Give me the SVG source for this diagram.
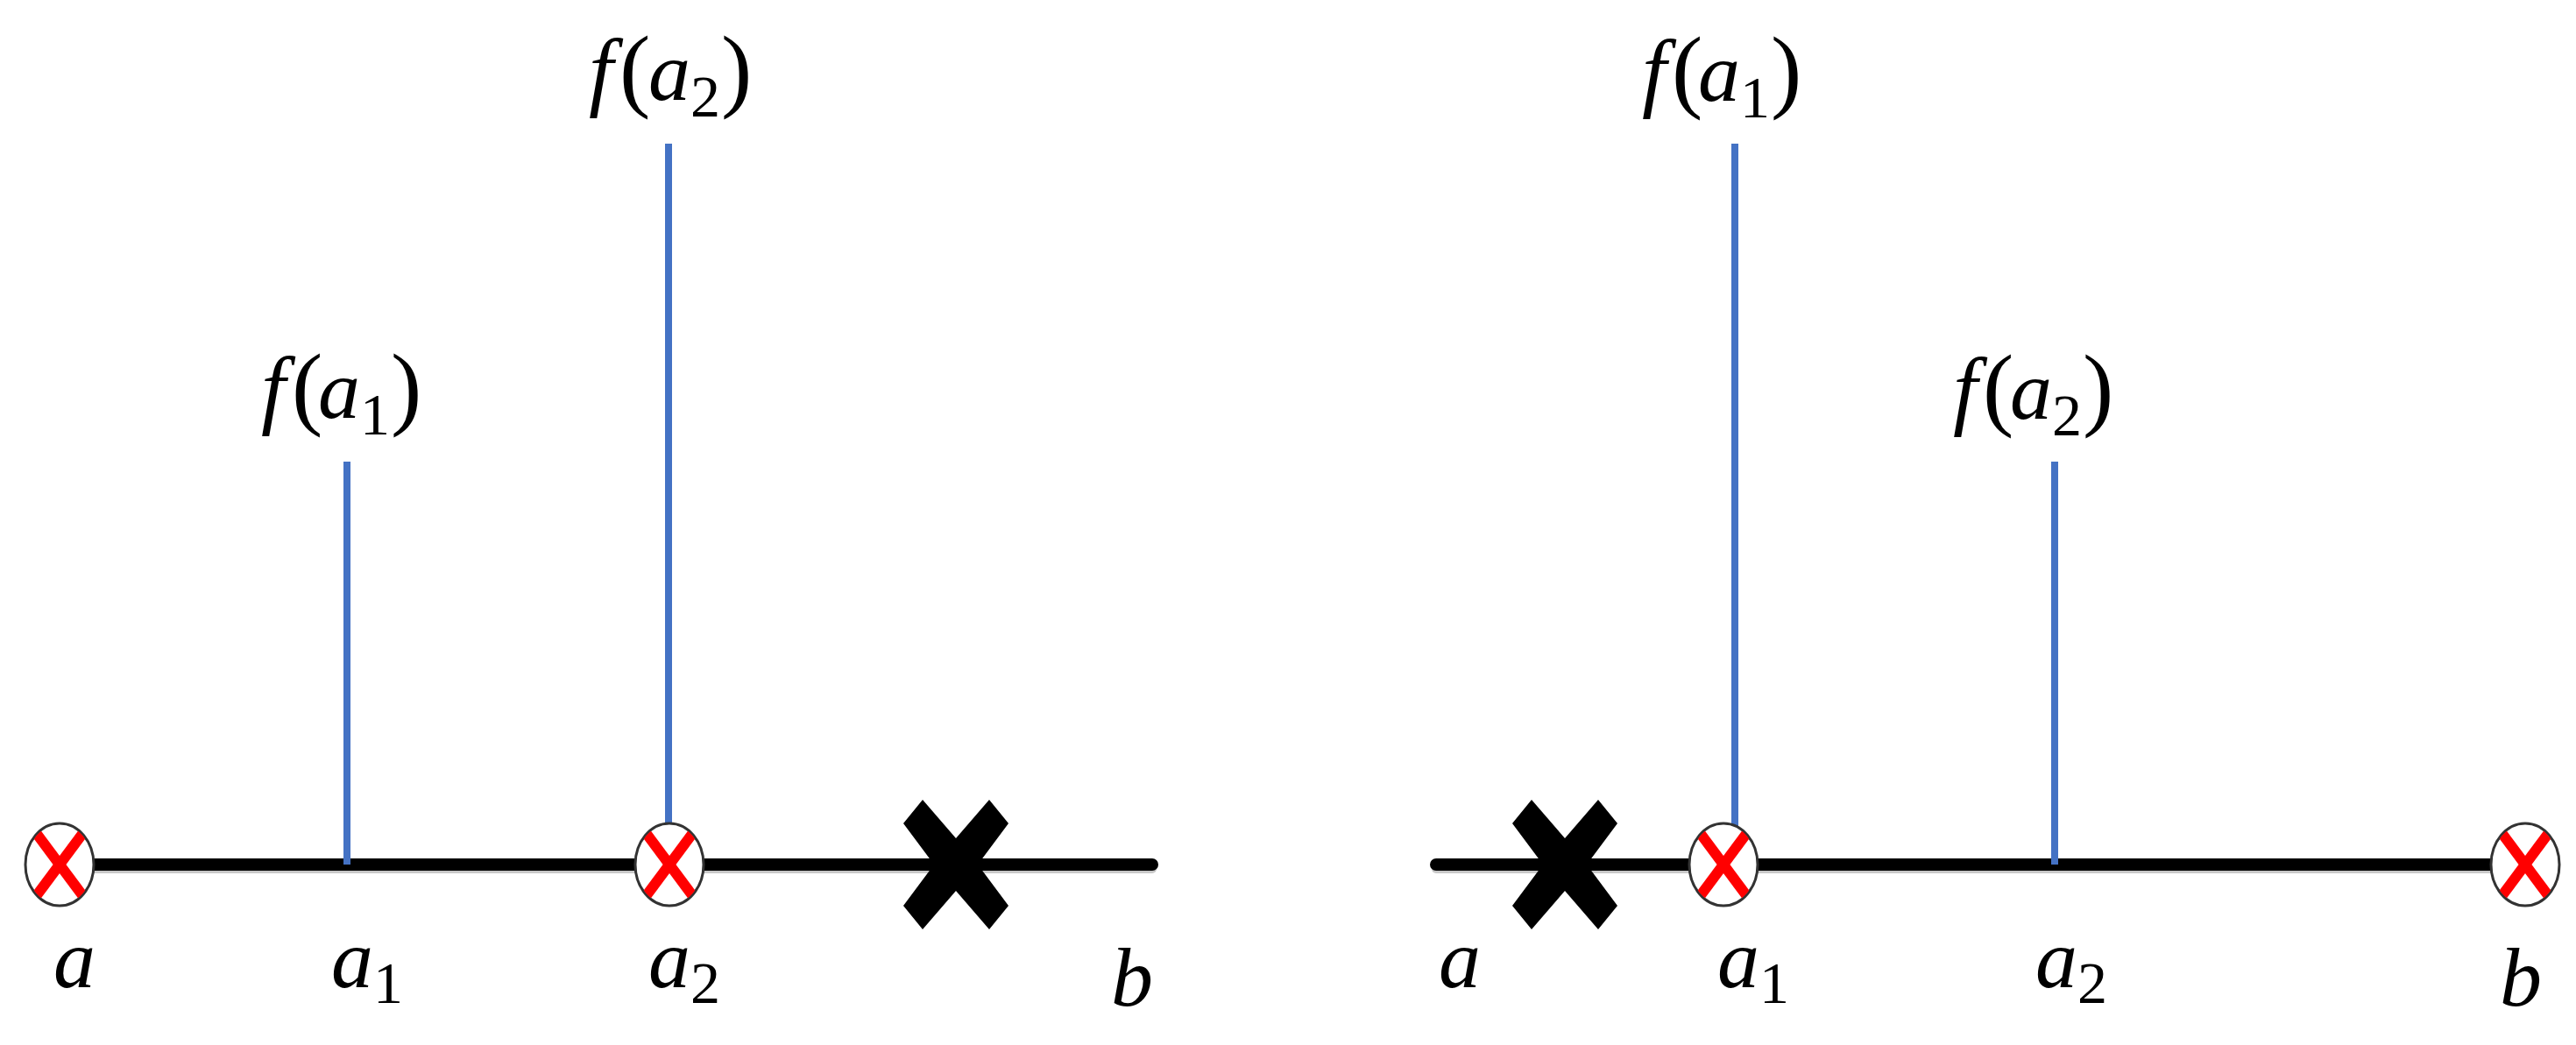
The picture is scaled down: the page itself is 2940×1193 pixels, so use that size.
<svg xmlns="http://www.w3.org/2000/svg" xmlns:xlink="http://www.w3.org/1999/xlink" width="2940" height="1193" viewBox="0 0 2940 1193">
<style>
  .axis { stroke: #000; stroke-width: 14; stroke-linecap: round; fill: none; }
  .shadow { stroke: #c8c8c8; stroke-width: 10; stroke-linecap: round; fill: none; }
  .val { stroke: #4472C4; stroke-width: 8; fill: none; }
  .lbl { font-family: "Liberation Serif", "DejaVu Serif", serif; fill: #000; }
  .it { font-style: italic; font-size: 96px; }
  .fi { font-style: italic; font-size: 100px; }
  .par { font-style: normal; font-size: 106px; }
  .sub { font-style: normal; font-size: 68px; }
  .ell { fill: #fff; stroke: #333; stroke-width: 3; }
  .rx { stroke: #ff0000; stroke-width: 12; fill: none; }
  .bx { fill: #000; }
</style>
<defs>
  <clipPath id="ec"><ellipse cx="0" cy="0" rx="38" ry="46"/></clipPath>
  <g id="mark">
    <ellipse class="ell" cx="0" cy="0" rx="39" ry="47"/>
    <g clip-path="url(#ec)">
      <line class="rx" x1="-26" y1="-35" x2="26" y2="35"/>
      <line class="rx" x1="26" y1="-35" x2="-26" y2="35"/>
    </g>
  </g>
  <polygon id="bigx" class="bx" points="-60,-47 -38,-74 0,-30 38,-74 60,-47 25,0 60,47 38,74 0,30 -38,74 -60,47 -25,0"/>
</defs>

<g id="connectors">
  <line class="shadow" x1="68" y1="992" x2="1315" y2="992"/>
  <line class="axis" id="axis-left" x1="68" y1="987" x2="1315" y2="987"/>
  <line class="shadow" x1="1639" y1="992" x2="2882" y2="992"/>
  <line class="axis" id="axis-right" x1="1639" y1="987" x2="2882" y2="987"/>
  <line class="val" id="L-fa1" x1="396" y1="527" x2="396" y2="987"/>
  <line class="val" id="L-fa2" x1="763" y1="164" x2="763" y2="943"/>
  <line class="val" id="R-fa1" x1="1980" y1="164" x2="1980" y2="945"/>
  <line class="val" id="R-fa2" x1="2345" y1="527" x2="2345" y2="987"/>
</g>

<g id="L-node-a"><use xlink:href="#mark" href="#mark" x="68" y="987"/></g>
<g id="L-node-a2"><use xlink:href="#mark" href="#mark" x="764" y="987"/></g>
<g id="L-cross"><use xlink:href="#bigx" href="#bigx" x="1091" y="987"/></g>

<g id="R-cross"><use xlink:href="#bigx" href="#bigx" x="1786" y="987"/></g>
<g id="R-node-a1"><use xlink:href="#mark" href="#mark" x="1967" y="987"/></g>
<g id="R-node-b"><use xlink:href="#mark" href="#mark" x="2882" y="987"/></g>

<g id="L-label-fa1">
  <text class="lbl"><tspan class="fi" x="298" y="477">f</tspan><tspan class="par" x="333" y="477">(</tspan><tspan class="it" x="363" y="477">a</tspan><tspan class="sub" x="411" y="496">1</tspan><tspan class="par" x="446" y="477">)</tspan></text>
</g>
<g id="L-label-fa2">
  <text class="lbl"><tspan class="fi" x="672" y="114">f</tspan><tspan class="par" x="707" y="114">(</tspan><tspan class="it" x="740" y="114">a</tspan><tspan class="sub" x="788" y="133">2</tspan><tspan class="par" x="823" y="114">)</tspan></text>
</g>
<g id="R-label-fa1">
  <text class="lbl"><tspan class="fi" x="1874" y="115">f</tspan><tspan class="par" x="1908" y="115">(</tspan><tspan class="it" x="1938" y="115">a</tspan><tspan class="sub" x="1986" y="134">1</tspan><tspan class="par" x="2021" y="115">)</tspan></text>
</g>
<g id="R-label-fa2">
  <text class="lbl"><tspan class="fi" x="2229" y="478">f</tspan><tspan class="par" x="2263" y="478">(</tspan><tspan class="it" x="2294" y="478">a</tspan><tspan class="sub" x="2342" y="497">2</tspan><tspan class="par" x="2377" y="478">)</tspan></text>
</g>

<g id="L-axis-labels">
  <text class="lbl it" x="61" y="1127">a</text>
  <text class="lbl"><tspan class="it" x="378" y="1127">a</tspan><tspan class="sub" x="426" y="1145">1</tspan></text>
  <text class="lbl"><tspan class="it" x="740" y="1127">a</tspan><tspan class="sub" x="788" y="1145">2</tspan></text>
  <text class="lbl it" x="1268" y="1148">b</text>
</g>
<g id="R-axis-labels">
  <text class="lbl it" x="1642" y="1127">a</text>
  <text class="lbl"><tspan class="it" x="1960" y="1127">a</tspan><tspan class="sub" x="2008" y="1145">1</tspan></text>
  <text class="lbl"><tspan class="it" x="2323" y="1127">a</tspan><tspan class="sub" x="2371" y="1145">2</tspan></text>
  <text class="lbl it" x="2853" y="1148">b</text>
</g>
</svg>
